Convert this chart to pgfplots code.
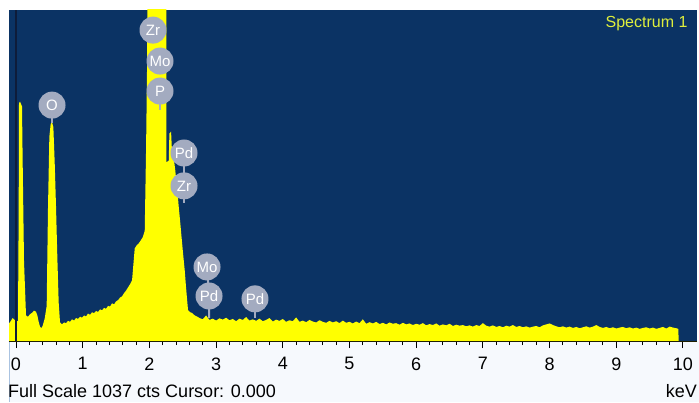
\documentclass[border=0pt]{standalone}
\usepackage{pgfplots}
\pgfplotsset{compat=1.18}
\usepackage{pgfplotstable}
\usepackage{fontspec}
\setmainfont{Liberation Sans}
\definecolor{navy}{RGB}{11,51,100}
\definecolor{spyel}{RGB}{255,255,0}
\definecolor{bubcol}{RGB}{163,171,192}
\definecolor{curs}{RGB}{14,28,58}
\definecolor{spec}{RGB}{222,238,60}
\definecolor{lowbg}{RGB}{246,249,253}
\definecolor{lowln}{RGB}{170,195,225}

\pgfplotstableread{
x y
-0.105 0
-0.104 55
-0.08 62
-0.05 72
-0.02 66
0.03 62
0.04 400
0.045 745
0.06 750
0.09 735
0.10 560
0.12 250
0.15 80
0.18 76
0.21 84
0.24 88
0.27 95
0.30 92
0.32 80
0.34 60
0.36 45
0.38 40
0.40 48
0.43 70
0.46 110
0.48 420
0.50 640
0.52 680
0.54 686
0.56 670
0.58 560
0.60 420
0.62 260
0.64 120
0.66 58
0.69 52
0.72 58
0.75 56
0.78 63
0.81 60
0.84 68
0.87 64
0.90 72
0.93 69
0.96 76
0.99 73
1.02 80
1.05 77
1.08 86
1.11 82
1.14 90
1.17 87
1.20 94
1.23 91
1.26 99
1.29 96
1.32 104
1.35 101
1.38 110
1.41 108
1.44 118
1.47 115
1.50 124
1.53 128
1.56 136
1.59 140
1.62 150
1.65 158
1.68 168
1.71 178
1.74 190
1.76 240
1.78 290
1.81 300
1.84 306
1.87 315
1.90 325
1.93 345
1.95 600
1.965 860
1.98 1500
2.25 1500
2.256 560
2.29 565
2.30 650
2.325 656
2.335 610
2.354 589
2.385 540
2.414 482
2.44 420
2.459 379
2.48 330
2.504 276
2.53 220
2.549 169
2.565 130
2.579 97
2.61 90
2.639 88
2.68 80
2.729 75
2.75 72
2.80 68
2.85 80
2.90 66
2.95 70
3.00 64
3.05 71
3.10 67
3.15 73
3.20 65
3.25 69
3.30 62
3.35 70
3.40 66
3.45 75
3.50 64
3.55 68
3.60 63
3.65 70
3.70 62
3.75 66
3.80 72
3.85 61
3.90 67
3.95 63
4.00 69
4.05 60
4.10 65
4.15 62
4.20 74
4.25 60
4.30 64
4.35 59
4.40 66
4.45 61
4.50 58
4.55 65
4.60 60
4.65 57
4.70 63
4.75 58
4.80 62
4.85 56
4.90 64
4.95 57
5.00 60
5.05 55
5.10 61
5.15 56
5.20 68
5.25 54
5.30 59
5.35 55
5.40 60
5.45 53
5.50 57
5.55 52
5.60 58
5.65 54
5.70 56
5.75 51
5.80 57
5.85 52
5.90 55
5.95 50
6.00 54
6.05 51
6.10 56
6.15 49
6.20 53
6.25 50
6.30 55
6.35 48
6.40 52
6.45 49
6.50 54
6.55 47
6.60 51
6.65 48
6.70 50
6.75 46
6.80 49
6.85 45
6.90 50
6.95 47
7.00 56
7.05 48
7.10 45
7.15 49
7.20 44
7.25 47
7.30 43
7.35 48
7.40 45
7.45 50
7.50 44
7.55 47
7.60 43
7.65 46
7.70 42
7.75 45
7.80 47
7.85 43
7.90 49
7.95 52
8.00 55
8.05 50
8.10 46
8.15 43
8.20 46
8.25 42
8.30 45
8.35 41
8.40 44
8.45 40
8.50 43
8.55 46
8.60 42
8.65 45
8.70 50
8.75 44
8.80 41
8.85 44
8.90 40
8.95 43
9.00 39
9.05 42
9.10 44
9.15 40
9.20 43
9.25 39
9.30 42
9.35 38
9.40 41
9.45 43
9.50 39
9.55 42
9.60 38
9.65 41
9.70 44
9.75 39
9.80 45
9.85 42
9.90 40
9.93 38
9.935 0
10.25 0
}\spectrum

\begin{document}
\begin{tikzpicture}[x=1pt,y=1pt,
  bub/.style={circle, fill=bubcol, text=white, inner sep=0pt, minimum size=27pt, font=\fontsize{15}{15}\selectfont},
  stem/.style={bubcol, line width=2pt}]
\useasboundingbox (0,0) rectangle (699,402);
\fill[lowbg] (9,0) rectangle (699,61);
\draw[lowln, line width=1pt] (9.5,0) -- (9.5,61);
\begin{axis}[
  at={(9pt,61pt)}, anchor=south west,
  scale only axis, width=688pt, height=331pt,
  xmin=-0.105, xmax=10.21, ymin=0, ymax=1037,
  axis background/.style={fill=navy},
  axis x line*=bottom, axis y line=none,
  x axis line style={-, black, line width=1pt},
  xtick={0,1,...,10}, minor x tick num=4,
  tick align=outside,
  major tick length=7pt, minor tick length=4pt,
  every tick/.style={black, line width=1pt},
  /pgf/number format/assume math mode=true,
  xticklabel style={font=\fontsize{18}{18}\selectfont, text=black, yshift=-6pt},
  clip=true,
]
\addplot[fill=spyel, draw=none] table[x=x, y=y] {\spectrum} \closedcycle;
\addplot[draw=curs, line width=2pt] coordinates {(0,0) (0,1037)};
% stems
\draw[stem] (axis cs:0.54,739) -- (axis cs:0.54,683);
\draw[stem] (axis cs:2.159,783) -- (axis cs:2.159,724);
\draw[stem] (axis cs:2.519,589) -- (axis cs:2.519,432);
\draw[stem] (axis cs:2.864,232) -- (axis cs:2.894,141) -- (axis cs:2.894,72);
\draw[stem] (axis cs:3.583,132) -- (axis cs:3.583,72);
% bubbles
\node[bub] at (axis cs:0.54,739) {O};
\node[bub] at (axis cs:2.054,974) {Zr};
\node[bub] at (axis cs:2.159,877) {Mo};
\node[bub] at (axis cs:2.159,783) {P};
\node[bub] at (axis cs:2.519,589) {Pd};
\node[bub] at (axis cs:2.519,486) {Zr};
\node[bub] at (axis cs:2.864,232) {Mo};
\node[bub] at (axis cs:2.894,141) {Pd};
\node[bub] at (axis cs:3.583,132) {Pd};
\end{axis}
\node[anchor=east, text=spec, font=\fontsize{16}{16}\selectfont] at (691,378) {Spectrum 1};
\node[anchor=base west, inner sep=0pt, font=\fontsize{18}{18}\selectfont] at (8,5) {Full Scale 1037 cts Cursor: 0.000};
\node[anchor=base east, inner sep=0pt, font=\fontsize{18}{18}\selectfont] at (697,5) {keV};
\end{tikzpicture}
\end{document}
